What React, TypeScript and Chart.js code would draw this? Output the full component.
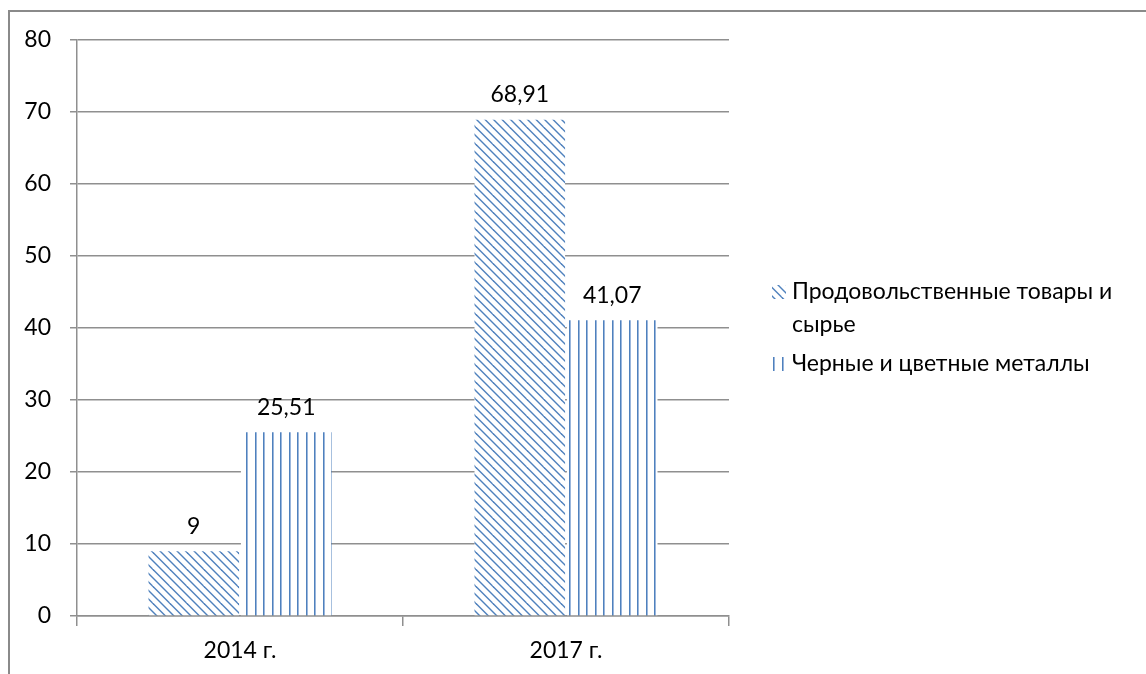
import React, { useEffect, useRef } from "react";
import { Chart, registerables } from "chart.js";

Chart.register(...registerables);

const categories = ["2014 г.", "2017 г."];
const foodValues = [9, 68.91];
const metalValues = [25.51, 41.07];
const seriesNames = [["Продовольственные товары и", "сырье"], ["Черные и цветные металлы"]];
const yTicks = [0, 10, 20, 30, 40, 50, 60, 70, 80];

const FONT = "Lato, 'Open Sans', sans-serif";
const FS = 23;
const BLUE = "#4f81bd";
const GRID = "#8f8f8f";

function makeDiagonal(ctx: CanvasRenderingContext2D): CanvasPattern | string {
  const s = 17;
  const c = document.createElement("canvas");
  c.width = s;
  c.height = s;
  const g = c.getContext("2d")!;
  g.fillStyle = "#ffffff";
  g.fillRect(0, 0, s, s);
  g.strokeStyle = BLUE;
  g.lineWidth = 1.4;
  for (const k of [-17, -8.5, 0, 8.5, 17]) {
    g.beginPath();
    g.moveTo(k - 2, -2);
    g.lineTo(k + s + 2, s + 2);
    g.stroke();
  }
  return ctx.createPattern(c, "repeat") || BLUE;
}

function makeVertical(ctx: CanvasRenderingContext2D): CanvasPattern | string {
  const w = 17;
  const c = document.createElement("canvas");
  c.width = w;
  c.height = 4;
  const g = c.getContext("2d")!;
  g.fillStyle = "#ffffff";
  g.fillRect(0, 0, w, 4);
  g.fillStyle = BLUE;
  g.fillRect(0, 0, 1, 4);
  g.fillRect(8, 0, 1, 4);
  g.fillStyle = "#9ab6dc";
  g.fillRect(1, 0, 1, 4);
  g.fillRect(9, 0, 1, 4);
  return ctx.createPattern(c, "repeat") || BLUE;
}

function fmt(v: number): string {
  return String(v).replace(".", ",");
}

export default function App() {
  const ref = useRef<HTMLCanvasElement | null>(null);

  useEffect(() => {
    const canvas = ref.current!;
    const ctx = canvas.getContext("2d")!;
    const diag = makeDiagonal(ctx);
    const vert = makeVertical(ctx);
    const patterns = [diag, vert];

    const framePlugin = {
      id: "frame",
      beforeDraw(chart: any) {
        const c = chart.ctx;
        c.save();
        c.fillStyle = "#ffffff";
        c.fillRect(0, 0, chart.width, chart.height);
        c.strokeStyle = "#8a8a8a";
        c.lineWidth = 2;
        c.strokeRect(9, 11, 1400, 1000);
        c.restore();
      },
    };

    const labelsPlugin = {
      id: "valueLabels",
      afterDatasetsDraw(chart: any) {
        const c = chart.ctx;
        c.save();
        c.font = `${FS}px ${FONT}`;
        c.fillStyle = "#000000";
        c.textAlign = "center";
        c.textBaseline = "middle";
        chart.data.datasets.forEach((ds: any, di: number) => {
          const meta = chart.getDatasetMeta(di);
          meta.data.forEach((bar: any, i: number) => {
            c.fillText(fmt(ds.data[i]), bar.x, bar.y - 25);
          });
        });
        c.restore();
      },
    };

    const legendPlugin = {
      id: "customLegend",
      afterDraw(chart: any) {
        const c = chart.ctx;
        c.save();
        c.font = `${FS}px ${FONT}`;
        c.textAlign = "left";
        c.textBaseline = "middle";
        const items = [
          { y: 292, lines: seriesNames[0] },
          { y: 364, lines: seriesNames[1] },
        ];
        items.forEach((it, idx) => {
          c.fillStyle = patterns[idx];
          c.fillRect(772, it.y - 7, 14, 14);
          c.fillStyle = "#000000";
          it.lines.forEach((t, li) => {
            c.fillText(t, 792, it.y + li * 33);
          });
        });
        c.restore();
      },
    };

    const chart = new Chart(canvas, {
      type: "bar",
      data: {
        labels: categories,
        datasets: [
          {
            label: seriesNames[0].join(" "),
            data: foodValues,
            backgroundColor: diag as any,
            borderWidth: 0,
            categoryPercentage: 0.567,
            barPercentage: 0.98,
          },
          {
            label: seriesNames[1].join(" "),
            data: metalValues,
            backgroundColor: vert as any,
            borderWidth: 0,
            categoryPercentage: 0.567,
            barPercentage: 0.98,
          },
        ],
      },
      options: {
        responsive: false,
        animation: false,
        devicePixelRatio: 1,
        layout: { padding: { top: 40, right: 417, left: 0, bottom: 0 } },
        plugins: {
          legend: { display: false },
          tooltip: { enabled: false },
        },
        scales: {
          x: {
            offset: true,
            grid: {
              offset: true,
              drawOnChartArea: false,
              drawTicks: true,
              tickLength: 10,
              color: GRID,
              lineWidth: 1.5,
            },
            border: { display: true, color: GRID, width: 1.5 },
            ticks: {
              color: "#000000",
              font: { family: FONT, size: FS },
              padding: 11,
            },
            afterFit(scale: any) {
              scale.height = 58;
            },
          },
          y: {
            min: 0,
            max: 80,
            afterBuildTicks(scale: any) {
              scale.ticks = yTicks.map((v) => ({ value: v }));
            },
            grid: {
              color: GRID,
              lineWidth: 1.5,
              drawTicks: true,
              tickLength: 7,
            },
            border: { display: true, color: GRID, width: 1.5 },
            ticks: {
              color: "#000000",
              font: { family: FONT, size: FS },
              padding: 19,
            },
            afterFit(scale: any) {
              scale.width = 77;
            },
          },
        },
      },
      plugins: [framePlugin, labelsPlugin, legendPlugin],
    } as any);

    return () => chart.destroy();
  }, []);

  return (
    <div style={{ position: "fixed", left: 0, top: 0, width: 1146, height: 674, overflow: "hidden", background: "#fff" }}>
      <canvas ref={ref} width={1146} height={674} style={{ display: "block", width: 1146, height: 674 }} />
    </div>
  );
}
